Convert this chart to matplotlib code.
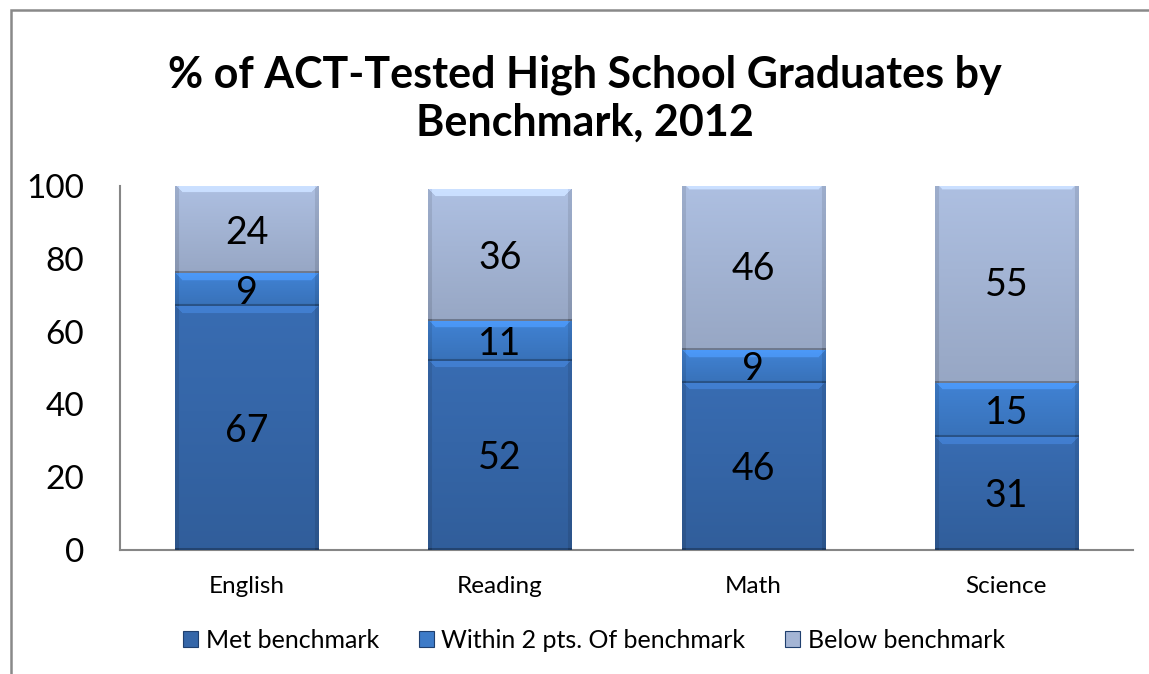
import numpy as np
import matplotlib
matplotlib.use('Agg')
import matplotlib.pyplot as plt
from matplotlib.colors import to_rgb
from matplotlib.patches import Patch, Rectangle

categories = ['English', 'Reading', 'Math', 'Science']
met = [67, 52, 46, 31]
within = [9, 11, 9, 15]
below = [24, 36, 46, 55]
series_names = ['Met benchmark', 'Within 2 pts. Of benchmark', 'Below benchmark']
colors = ['#3566A8', '#3D7BC8', '#A4B5D5']
title = '% of ACT-Tested High School Graduates by\nBenchmark, 2012'

plt.rcParams['font.family'] = ['Lato', 'DejaVu Sans']

fig = plt.figure(figsize=(11.49, 6.74), dpi=100)
ax = fig.add_axes([0.1044, 0.184, 0.8816, 0.54])
x = np.arange(len(categories))
width = 0.565


def shade(ax, bars, color):
    # fake the excel bevel: light top strip, darker sides and bottom
    base = np.array(to_rgb(color))
    for bar in bars:
        x0, y0 = bar.get_x(), bar.get_y()
        w, h = bar.get_width(), bar.get_height()
        nx = 143
        ny = max(int(h * 3.64), 4)
        py = np.arange(ny)[:, None] * np.ones((1, nx))
        px = np.ones((ny, 1)) * np.arange(nx)[None, :]
        f = 1.06 - 0.14 * py / ny
        f = f + 0.18 * (py < 7) * (px > py) * (px < nx - 1 - py)
        f = f - 0.10 * ((px < 4) | (px > nx - 5))
        f = f - 0.25 * (py > ny - 3)
        img = np.clip(base[None, None, :] * f[:, :, None], 0, 1)
        ax.imshow(img, extent=(x0, x0 + w, y0, y0 + h), aspect='auto',
                  interpolation='bilinear', zorder=3)


bottoms = np.zeros(len(categories))
for vals, name, col in zip([met, within, below], series_names, colors):
    bars = ax.bar(x, vals, width, bottom=bottoms, color=col, label=name, zorder=2)
    shade(ax, bars, col)
    for xi, b, v in zip(x, bottoms, vals):
        ax.text(xi, b + v / 2 - 0.8, str(v), ha='center', va='center', fontsize=27,
                color='black', zorder=5)
    bottoms = bottoms + np.array(vals)

ax.set_xlim(-0.5, len(categories) - 0.5)
ax.set_ylim(0, 100)
ax.set_yticks(range(0, 101, 20))
ax.set_xticks(x)
ax.set_xticklabels(categories, fontsize=17.5)
ax.tick_params(axis='y', length=0, labelsize=24, pad=26)
ax.tick_params(axis='x', length=0, pad=19)
for s in ['top', 'right']:
    ax.spines[s].set_visible(False)
for s in ['left', 'bottom']:
    ax.spines[s].set_color('#868686')
    ax.spines[s].set_linewidth(1.5)

fig.text(0.509, 0.854, title, ha='center', va='center', fontsize=31,
         fontweight='bold', linespacing=1.22)

handles = [Patch(facecolor=c, edgecolor='#1f3f6e', linewidth=0.8) for c in colors]
fig.legend(handles, series_names, loc='center', bbox_to_anchor=(0.517, 0.05),
           ncol=3, frameon=False, fontsize=18, handlelength=0.6, handleheight=0.6,
           handletextpad=0.3, columnspacing=1.6)

fig.add_artist(Rectangle((10.5 / 1149, -0.01), 1.02, 1 - 9.5 / 674 + 0.01,
                         transform=fig.transFigure, fill=False,
                         edgecolor='#898989', linewidth=1.8))

fig.savefig('out.png', dpi=100)
